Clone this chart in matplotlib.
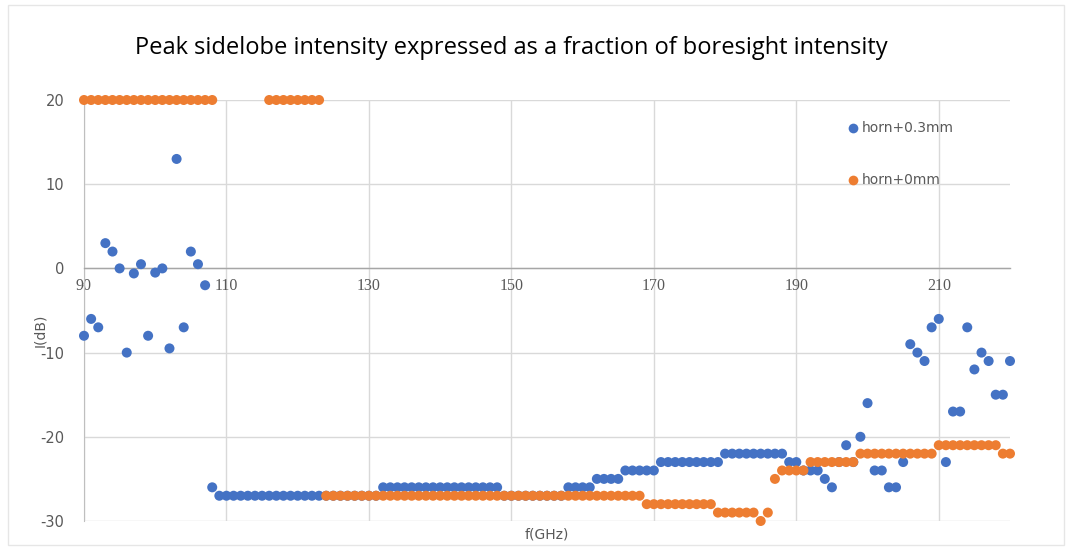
import numpy as np
import matplotlib
matplotlib.use("Agg")
import matplotlib.pyplot as plt
from matplotlib.lines import Line2D
from matplotlib.patches import Rectangle

plt.rcParams["axes.unicode_minus"] = False

nan = np.nan

# Frequency grid (GHz)
freq_ghz = list(range(90, 221))

# Peak sidelobe level (dB) for the horn with +0.3 mm offset
horn_03mm = [
    -8, -6, -7, 3, 2, 0, -10, -0.6, 0.5, -8,            # 90-99
    -0.5, 0, -9.5, 13, -7, 2, 0.5, -2, -26, -27,        # 100-109
    -27, -27, -27, -27, -27, -27, -27, -27, -27, -27,   # 110-119
    -27, -27, -27, -27, -27, -27, -27, -27, -27, -27,   # 120-129
    -27, -27, -26, -26, -26, -26, -26, -26, -26, -26,   # 130-139
    -26, -26, -26, -26, -26, -26, -26, -26, -26, -27,   # 140-149
    -27, -27, -27, -27, -27, -27, -27, -27, -26, -26,   # 150-159
    -26, -26, -25, -25, -25, -25, -24, -24, -24, -24,   # 160-169
    -24, -23, -23, -23, -23, -23, -23, -23, -23, -23,   # 170-179
    -22, -22, -22, -22, -22, -22, -22, -22, -22, -23,   # 180-189
    -23, -24, -24, -24, -25, -26, -23, -21, -23, -20,   # 190-199
    -16, -24, -24, -26, -26, -23, -9, -10, -11, -7,     # 200-209
    -6, -23, -17, -17, -7, -12, -10, -11, -15, -15,     # 210-219
    -11,                                                # 220
]

# Peak sidelobe level (dB) for the horn with no offset
horn_0mm = [
    20, 20, 20, 20, 20, 20, 20, 20, 20, 20,             # 90-99
    20, 20, 20, 20, 20, 20, 20, 20, 20, nan,            # 100-109
    nan, nan, nan, nan, nan, nan, 20, 20, 20, 20,       # 110-119
    20, 20, 20, 20, -27, -27, -27, -27, -27, -27,       # 120-129
    -27, -27, -27, -27, -27, -27, -27, -27, -27, -27,   # 130-139
    -27, -27, -27, -27, -27, -27, -27, -27, -27, -27,   # 140-149
    -27, -27, -27, -27, -27, -27, -27, -27, -27, -27,   # 150-159
    -27, -27, -27, -27, -27, -27, -27, -27, -27, -28,   # 160-169
    -28, -28, -28, -28, -28, -28, -28, -28, -28, -29,   # 170-179
    -29, -29, -29, -29, -29, -30, -29, -25, -24, -24,   # 180-189
    -24, -24, -23, -23, -23, -23, -23, -23, -23, -22,   # 190-199
    -22, -22, -22, -22, -22, -22, -22, -22, -22, -22,   # 200-209
    -21, -21, -21, -21, -21, -21, -21, -21, -21, -22,   # 210-219
    -22,                                                # 220
]

x_ticks = [90, 110, 130, 150, 170, 190, 210]
y_ticks = [-30, -20, -10, 0, 10, 20]

title = "Peak sidelobe intensity expressed as a fraction of boresight intensity"
series_names = ["horn+0.3mm", "horn+0mm"]
colors = ["#4472C4", "#ED7D31"]
text_gray = "#595959"
grid_gray = "#D9D9D9"

W, H = 1073, 549
fig = plt.figure(figsize=(W / 100, H / 100), dpi=100)
fig.patch.set_facecolor("white")

# Light chart-area border
fig.add_artist(Rectangle((8 / W, 4 / H), (1064 - 8) / W, (544 - 4) / H,
                         transform=fig.transFigure, fill=False,
                         edgecolor="#E6E6E6", linewidth=1.0))

left, right = 84 / W, 1010 / W
bottom, top = (H - 521) / H, (H - 100) / H
ax = fig.add_axes([left, bottom, right - left, top - bottom])

ax.set_xlim(90, 220)
ax.set_ylim(-30, 20)

# Grid
ax.set_xticks(x_ticks)
ax.set_yticks(y_ticks)
ax.grid(True, color=grid_gray, linewidth=1.0, zorder=0)
ax.set_axisbelow(True)

for side in ["top", "right"]:
    ax.spines[side].set_visible(False)
ax.spines["left"].set_color("#BFBFBF")
ax.spines["bottom"].set_position(("data", 0))
ax.spines["bottom"].set_color("#A6A6A6")
ax.spines["bottom"].set_linewidth(1.0)

ax.tick_params(axis="both", length=0)
ax.tick_params(axis="x", pad=7, labelcolor=text_gray)
ax.tick_params(axis="y", pad=14, labelcolor=text_gray, labelsize=10.5)
for lbl in ax.get_xticklabels():
    lbl.set_fontfamily("Liberation Serif")
    lbl.set_fontsize(11.5)

ms = 52
ax.scatter(freq_ghz, horn_03mm, s=ms, color=colors[0], edgecolors="none",
           zorder=3, clip_on=False, label=series_names[0])
ax.scatter(freq_ghz, horn_0mm, s=ms, color=colors[1], edgecolors="none",
           zorder=4, clip_on=False, label=series_names[1])

# Legend entries placed inside the plot area
for i, (name, c) in enumerate(zip(series_names, colors)):
    yy = (H - (128 + 52 * i)) / H
    fig.add_artist(Line2D([853 / W], [yy], marker="o", markersize=7,
                          color=c, markeredgewidth=0,
                          transform=fig.transFigure))
    fig.text(862 / W, yy, name, color=text_gray, fontsize=10,
             ha="left", va="center")

fig.text(511 / W, (H - 48) / H, title, ha="center", va="center",
         fontsize=17, color="#000000", family="Open Sans")
fig.text(40 / W, (H - 330) / H, "I(dB)", rotation=90, ha="center",
         va="center", fontsize=10, color=text_gray)
fig.text(547 / W, (H - 535) / H, "f(GHz)", ha="center", va="center",
         fontsize=10, color=text_gray)

fig.savefig("out.png", dpi=100, facecolor="white")
